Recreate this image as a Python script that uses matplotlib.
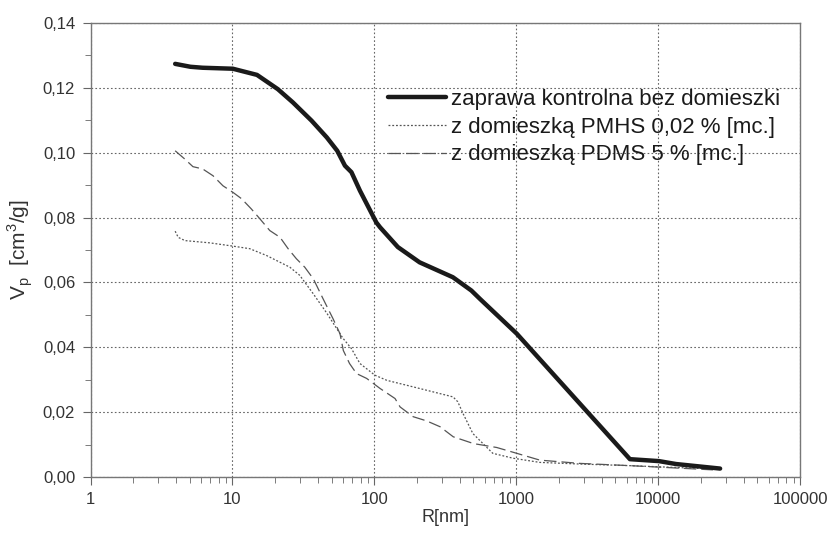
import matplotlib
matplotlib.use("Agg")
import matplotlib.pyplot as plt
from matplotlib.ticker import FixedLocator, LogLocator, NullFormatter, FuncFormatter

# Data
r_ctrl = [3.95, 5.06, 6.17, 10.07, 14.9, 20.9, 26.7, 36.1, 46.3, 54.8, 62.1, 69, 79.2,
          103.3, 109.8, 146.6, 208.5, 358, 483, 556, 1009, 6330, 10140, 13370, 27350]
v_ctrl = [0.1274, 0.1265, 0.1262, 0.1259, 0.1240, 0.1196, 0.1155, 0.1099, 0.1047, 0.1006,
          0.0960, 0.0940, 0.0883, 0.0785, 0.0770, 0.0709, 0.0662, 0.0616, 0.0575, 0.0549,
          0.0442, 0.0055, 0.0049, 0.0040, 0.0026]

r_pmhs = [3.95, 4.15, 4.63, 6.94, 10.07, 13.26, 17.4, 25.4, 29.8, 37, 46.3, 60.1, 69, 79.2,
          100.9, 122.7, 208.5, 359, 387.6, 421.7, 495, 684, 948, 1468, 2804, 6295, 24350]
v_pmhs = [0.0758, 0.0739, 0.0729, 0.0722, 0.0712, 0.0704, 0.0683, 0.0647, 0.0622, 0.0566,
          0.0505, 0.0428, 0.0396, 0.0350, 0.0314, 0.0298, 0.0273, 0.0247, 0.0232, 0.0196,
          0.0134, 0.0073, 0.0058, 0.0045, 0.0040, 0.0035, 0.0025]

r_pdms = [3.95, 4.63, 5.27, 6.17, 7.3, 8.58, 10.07, 11.61, 13.57, 15.63, 18.34, 21.67, 24.7,
          28.25, 32.35, 37.2, 43.5, 51.2, 57.3, 60.5, 66.9, 74.9, 88.3, 109.8, 140, 152,
          187.8, 233.7, 290.7, 360, 501, 729, 1009, 1468, 2804, 6330, 24350]
v_pdms = [0.1006, 0.0980, 0.0957, 0.0950, 0.0929, 0.0898, 0.0878, 0.0858, 0.0827, 0.0796,
          0.0760, 0.0739, 0.0704, 0.0673, 0.0647, 0.0611, 0.0550, 0.0488, 0.0442, 0.0390,
          0.0350, 0.0319, 0.0304, 0.0273, 0.0242, 0.0216, 0.0186, 0.0173, 0.0155, 0.0124,
          0.0103, 0.0091, 0.0073, 0.0052, 0.0042, 0.0035, 0.0022]

labels = ["zaprawa kontrolna bez domieszki",
          "z domieszką PMHS 0,02 % [mc.]",
          "z domieszką PDMS 5 % [mc.]"]

x_ticks = [1, 10, 100, 1000, 10000, 100000]
y_ticks = [0, 0.02, 0.04, 0.06, 0.08, 0.10, 0.12, 0.14]

plt.rcParams['font.family'] = ['Liberation Sans', 'DejaVu Sans']

fig = plt.figure(figsize=(8.3, 5.36), dpi=100)
ax = fig.add_axes([90.5/830, 1-477/536, (800-90.5)/830, (477-23)/536])

ax.plot(r_ctrl, v_ctrl, color='#1a1a1a', lw=3.2, solid_capstyle='round', label=labels[0], zorder=5)
ax.plot(r_pmhs, v_pmhs, color='#555555', lw=0.9, ls=(0, (1.5, 1.5)), label=labels[1], zorder=4)
ax.plot(r_pdms, v_pdms, color='#555555', lw=0.9, ls=(0, (10, 4)), label=labels[2], zorder=4)

ax.set_xscale('log')
ax.set_xlim(1, 100000)
ax.set_ylim(0, 0.14)
ax.xaxis.set_major_locator(FixedLocator(x_ticks))
ax.xaxis.set_minor_locator(LogLocator(base=10, subs=range(2, 10), numticks=20))
ax.xaxis.set_minor_formatter(NullFormatter())
ax.xaxis.set_major_formatter(FuncFormatter(lambda v, p: f"{int(round(v))}"))
ax.yaxis.set_major_locator(FixedLocator(y_ticks))
ax.yaxis.set_minor_locator(FixedLocator([0.01, 0.03, 0.05, 0.07, 0.09, 0.11, 0.13]))
ax.yaxis.set_major_formatter(FuncFormatter(lambda v, p: f"{v:.2f}".replace('.', ',')))

ax.grid(True, which='major', color='#666666', ls=(0, (1.5, 2)), lw=0.8)
ax.tick_params(which='both', direction='out', colors='#666666', labelcolor='#333333',
               top=False, right=False)
ax.tick_params(which='major', length=6, labelsize=12, pad=5)
ax.tick_params(which='minor', length=4)
for s in ax.spines.values():
    s.set_color('#777777')
    s.set_linewidth(1.0)

ax.set_xlabel('R[nm]', fontsize=13, color='#333333', labelpad=1)
ax.set_ylabel(r'V$_\mathregular{p}$  [cm$^\mathregular{3}$/g]', fontsize=15, color='#333333', labelpad=6)

leg = ax.legend(loc='upper left', bbox_to_anchor=((388-90.5)/709.5, 1-(89-23)/454), frameon=False,
                fontsize=16, handlelength=2.6, handletextpad=0.25, labelspacing=0.3,
                borderaxespad=0, borderpad=0)
for t in leg.get_texts():
    t.set_color('#1a1a1a')

fig.savefig('out.png', dpi=100)
